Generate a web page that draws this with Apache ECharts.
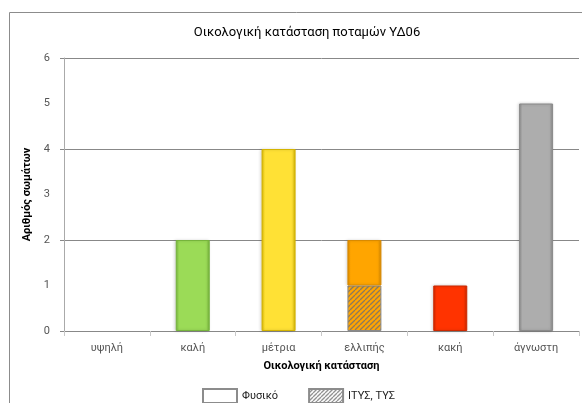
<!DOCTYPE html>
<html>
<head>
<meta charset="utf-8">
<script src="https://cdn.jsdelivr.net/npm/echarts@6/dist/echarts.min.js"></script>
<style>
  html, body { margin: 0; padding: 0; background: #fff; }
  #chart { width: 582px; height: 403px; }
</style>
</head>
<body>
<div id="chart"></div>
<script>
// Ecological status categories and number of water bodies in each
const categories = ['υψηλή', 'καλή', 'μέτρια', 'ελλιπής', 'κακή', 'άγνωστη'];
const naturalCounts = [0, 2, 4, 1, 1, 5];      // Φυσικό
const modifiedCounts = [0, 0, 0, 1, 0, 0];     // ΙΤΥΣ, ΤΥΣ
const seriesNames = ['Φυσικό', 'ΙΤΥΣ, ΤΥΣ'];

// Fill colours per status class: [centre, edge]
const statusColors = [
  ['#4f81bd', '#3a6396'],
  ['#9bdb57', '#76b43c'],
  ['#ffe135', '#d4b400'],
  ['#ffa500', '#d98a00'],
  ['#ff3300', '#cc2900'],
  ['#adadad', '#8a8a8a']
];

const FONT = 'Roboto, "Noto Sans", sans-serif';

function bevel(c) {
  return {
    type: 'linear', x: 0, y: 0, x2: 1, y2: 0,
    colorStops: [
      { offset: 0, color: c[1] },
      { offset: 0.1, color: c[0] },
      { offset: 0.9, color: c[0] },
      { offset: 1, color: c[1] }
    ]
  };
}

function hatch(bg, line, size) {
  const c = document.createElement('canvas');
  c.width = size; c.height = size;
  const g = c.getContext('2d');
  g.fillStyle = bg;
  g.fillRect(0, 0, size, size);
  g.strokeStyle = line;
  g.lineWidth = 1.3;
  g.beginPath();
  for (let k = -1; k <= 1; k++) {
    g.moveTo(k * size, size);
    g.lineTo(k * size + size, 0);
  }
  g.stroke();
  return { image: c, repeat: 'repeat' };
}

// Empty classes get no outline so nothing is drawn on the baseline
const naturalData = naturalCounts.map((v, i) => ({
  value: v,
  itemStyle: {
    color: bevel(statusColors[i]),
    borderColor: statusColors[i][1],
    borderWidth: v === 0 ? 0 : 1,
    shadowBlur: v === 0 ? 0 : 3
  }
}));

const modifiedData = modifiedCounts.map((v, i) => ({
  value: v,
  itemStyle: {
    color: hatch(statusColors[i][0], '#8c7a5a', 5),
    borderColor: '#8a8a8a',
    borderWidth: v === 0 ? 0 : 1
  }
}));

const chart = echarts.init(document.getElementById('chart'), null, { renderer: 'canvas' });

chart.setOption({
  animation: false,
  backgroundColor: '#fff',
  textStyle: { fontFamily: FONT },
  graphic: [{
    type: 'rect',
    z: -10,
    shape: { x: 9.5, y: 12.5, width: 700, height: 500 },
    style: { fill: 'none', stroke: '#8c8c8c', lineWidth: 1 }
  }],
  title: {
    text: 'Οικολογική κατάσταση ποταμών ΥΔ06',
    left: 302, textAlign: 'center',
    top: 21,
    textStyle: { fontFamily: FONT, fontSize: 13, fontWeight: 'normal', color: '#000' }
  },
  legend: {
    data: seriesNames,
    left: 197, top: 383,
    itemWidth: 34, itemHeight: 14, itemGap: 30,
    icon: 'rect',
    textStyle: { fontFamily: FONT, fontSize: 11, color: '#222' }
  },
  grid: { left: 64, right: 3, top: 58, bottom: 72, containLabel: false },
  xAxis: {
    type: 'category',
    data: categories,
    name: 'Οικολογική κατάσταση',
    nameLocation: 'middle',
    nameGap: 30,
    nameTextStyle: { fontFamily: FONT, fontSize: 11, fontWeight: 'bold', color: '#000' },
    axisLine: { lineStyle: { color: '#888', width: 1 } },
    axisTick: { show: true, interval: 0, length: 5, lineStyle: { color: '#c8c8c8' } },
    axisLabel: { fontFamily: FONT, fontSize: 11, color: '#555', margin: 12 }
  },
  yAxis: [{
    type: 'value',
    min: 0, max: 6, interval: 1,
    name: 'Αριθμός σωμάτων',
    nameLocation: 'middle',
    nameGap: 24,
    nameTextStyle: { fontFamily: FONT, fontSize: 11, fontWeight: 'bold', color: '#000' },
    axisLine: { show: true, lineStyle: { color: '#aaa' } },
    axisTick: { show: false },
    splitLine: { show: false },
    axisLabel: { fontFamily: FONT, fontSize: 11, color: '#555', margin: 14 }
  }, {
    type: 'value',
    position: 'left',
    min: 0, max: 6, interval: 2,
    axisLine: { show: false },
    axisTick: { show: true, length: 4, lineStyle: { color: '#888' } },
    axisLabel: { show: false },
    splitLine: { show: true, lineStyle: { color: '#888', width: 1 } }
  }],
  series: [{
    name: seriesNames[1],
    type: 'bar',
    stack: 'count',
    yAxisIndex: 0,
    barWidth: 34,
    itemStyle: { color: hatch('#ffffff', '#8c8c8c', 4), borderColor: '#8c8c8c', borderWidth: 1 },
    data: modifiedData
  }, {
    name: seriesNames[0],
    type: 'bar',
    stack: 'count',
    yAxisIndex: 0,
    barWidth: 34,
    itemStyle: {
      color: '#ffffff', borderColor: '#8c8c8c', borderWidth: 1,
      shadowColor: 'rgba(0,0,0,0.18)', shadowBlur: 3, shadowOffsetX: -1
    },
    data: naturalData
  }]
});
</script>
</body>
</html>
